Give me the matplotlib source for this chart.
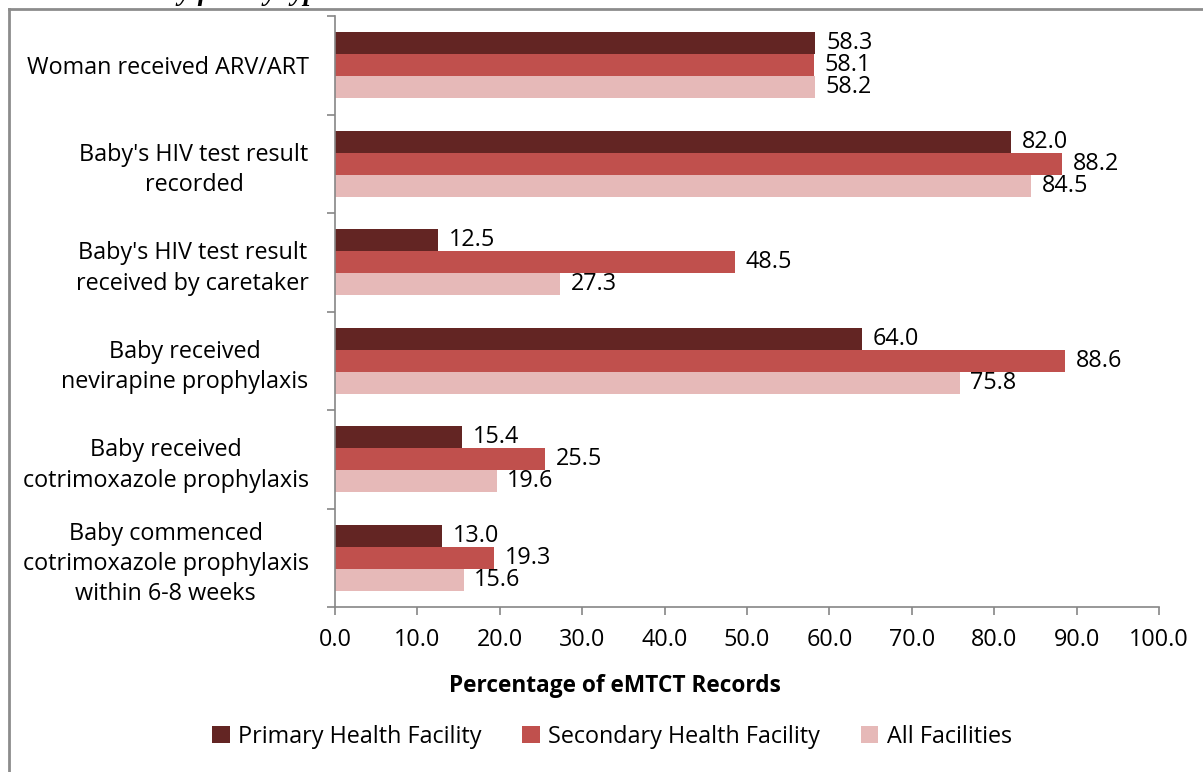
import numpy as np
import matplotlib.pyplot as plt
from matplotlib.patches import Patch
from matplotlib.lines import Line2D

plt.rcParams['font.family'] = ['Open Sans', 'DejaVu Sans']

# Data
categories = [
    "Woman received ARV/ART",
    "Baby's HIV test result\nrecorded",
    "Baby's HIV test result\nreceived by caretaker",
    "Baby received\nnevirapine prophylaxis",
    "Baby received\ncotrimoxazole prophylaxis",
    "Baby commenced\ncotrimoxazole prophylaxis\nwithin 6-8 weeks",
]
primary = [58.3, 82.0, 12.5, 64.0, 15.4, 13.0]
secondary = [58.1, 88.2, 48.5, 88.6, 25.5, 19.3]
all_fac = [58.2, 84.5, 27.3, 75.8, 19.6, 15.6]
series_names = ["Primary Health Facility", "Secondary Health Facility", "All Facilities"]
colors = ["#632523", "#C0504D", "#E6B9B8"]
x_ticks = np.arange(0, 101, 10)

fs = 16.8

fig = plt.figure(figsize=(12.03, 7.72), dpi=100)
ax = fig.add_axes([335/1203, 1-607/772, (1159-335)/1203, (607-16)/772])

n = len(categories)
pos = np.arange(n)
h = 0.222
series = [primary, secondary, all_fac]
for i, (vals, col, name) in enumerate(zip(series, colors, series_names)):
    y = pos + (i - 1) * h
    ax.barh(y, vals, height=h, color=col, label=name)
    for yy, v in zip(y, vals):
        ax.text(v + 1.3, yy, f"{v:.1f}", va='center', ha='left', fontsize=fs)

ax.set_ylim(n - 0.5, -0.5)
ax.set_xlim(0, 100)
ax.set_xticks(x_ticks)
ax.set_xticklabels([f"{t:.1f}" for t in x_ticks], fontsize=fs)
ax.set_yticks(pos)
ax.set_yticklabels(categories, fontsize=fs, multialignment='center', linespacing=1.35)
ax.set_yticks(np.arange(-0.5, n, 1), minor=True)
ax.tick_params(axis='y', which='major', length=0, pad=19)
ax.tick_params(axis='y', which='minor', length=6, color='#868686', width=1.2)
ax.tick_params(axis='x', length=6, color='#868686', width=1.2, pad=9)

for s in ['top', 'right']:
    ax.spines[s].set_visible(False)
for s in ['left', 'bottom']:
    ax.spines[s].set_color('#868686')
    ax.spines[s].set_linewidth(1.2)

fig.text(615/1203, 1-686/772, "Percentage of eMTCT Records", ha='center', va='center',
         fontsize=16.3, fontweight='bold')

handles = [Patch(facecolor=c, edgecolor='none') for c in colors]
fig.legend(handles, series_names, loc='center', bbox_to_anchor=(612/1203, 1-737/772),
           ncol=3, frameon=False, fontsize=fs, handlelength=0.75, handleheight=0.75,
           columnspacing=1.75, handletextpad=0.35)

# outer frame (left and top only visible)
fig.add_artist(Line2D([9/1203, 9/1203], [0, 1-9/772], color='#8c8c8c', lw=2,
                      transform=fig.transFigure))
fig.add_artist(Line2D([9/1203, 1], [1-9/772, 1-9/772], color='#8c8c8c', lw=2,
                      transform=fig.transFigure))

# clipped caption above the frame
fig.text(330/1203, 1.0, "Figure 6: Completeness of eMTCT records by facility type",
         ha='right', va='baseline', fontsize=20, fontweight='bold', fontstyle='italic',
         family='Liberation Serif')

fig.savefig('out.png', dpi=100)
